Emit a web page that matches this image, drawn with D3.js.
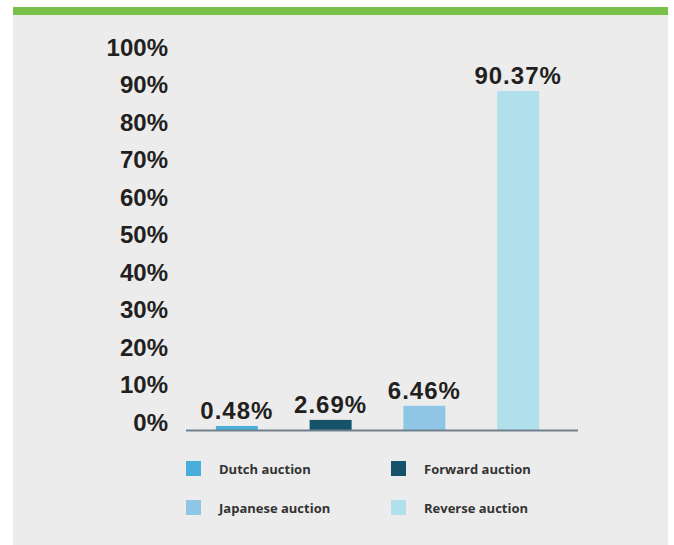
<!DOCTYPE html>
<html>
<head>
<meta charset="utf-8">
<script src="https://cdn.jsdelivr.net/npm/d3@7"></script>
<style>
  body { margin: 0; background: #fff; }
  svg { display: block; }
</style>
</head>
<body>
<script>
// ================= Data ======================
const categories = ["Dutch auction", "Forward auction", "Japanese auction", "Reverse auction"];
const shares = [0.48, 2.69, 6.46, 90.37];
const valueLabels = ["0.48%", "2.69%", "6.46%", "90.37%"];
const yTicks = [0, 10, 20, 30, 40, 50, 60, 70, 80, 90, 100];
const colors = ["#4aaedd", "#16536a", "#8fc6e6", "#b0e0ec"];

const W = 674, H = 545;
const font = "'Liberation Sans', Arial, sans-serif";

const svg = d3.select("body").append("svg")
  .attr("width", W).attr("height", H);

// panel + green rule
svg.append("rect").attr("x", 13).attr("y", 7).attr("width", 655).attr("height", H - 7)
  .attr("fill", "#ececec");
svg.append("rect").attr("x", 13).attr("y", 7).attr("width", 655).attr("height", 8)
  .attr("fill", "#78c04a");

// ================= Scales ======================
const x = d3.scaleBand().domain(categories).range([190, 565])
  .paddingInner(0.552).paddingOuter(0.276);
const y = d3.scaleLinear().domain([0, 100]).range([430, 55]);

// y tick labels (no axis line)
svg.append("g").selectAll("text").data(yTicks).join("text")
  .attr("x", 168)
  .attr("y", d => y(d) - 8)
  .attr("dy", "0.36em")
  .attr("text-anchor", "end")
  .attr("font-family", font)
  .attr("font-weight", 700)
  .attr("font-size", 24)
  .attr("fill", "#231f20")
  .text(d => d + "%");

// bars
svg.append("g").selectAll("rect").data(shares).join("rect")
  .attr("x", (d, i) => x(categories[i]))
  .attr("width", x.bandwidth())
  .attr("y", d => Math.min(y(d), y(0) - 4))
  .attr("height", d => Math.max(y(0) - y(d), 4))
  .attr("fill", (d, i) => colors[i]);

// baseline
svg.append("line")
  .attr("x1", 186).attr("x2", 578)
  .attr("y1", y(0) + 0.5).attr("y2", y(0) + 0.5)
  .attr("stroke", "#6f808c").attr("stroke-width", 2);

// value labels
svg.append("g").selectAll("text").data(shares).join("text")
  .attr("x", (d, i) => x(categories[i]) + x.bandwidth() / 2)
  .attr("y", d => Math.min(y(d), y(0) - 4) - 7)
  .attr("text-anchor", "middle")
  .attr("font-family", font)
  .attr("font-weight", 700)
  .attr("font-size", 24)
  .attr("letter-spacing", 1)
  .attr("fill", "#231f20")
  .text((d, i) => valueLabels[i]);

// ================= Legend ======================
const legend = svg.append("g").selectAll("g").data(categories).join("g")
  .attr("transform", (d, i) => `translate(${i % 2 ? 391 : 186}, ${i < 2 ? 461 : 500})`);
legend.append("rect")
  .attr("width", 15).attr("height", 15)
  .attr("fill", (d, i) => colors[i]);
legend.append("text")
  .attr("x", 33).attr("y", 8)
  .attr("dy", "0.36em")
  .attr("font-family", "'Open Sans', sans-serif")
  .attr("font-weight", 700)
  .attr("font-size", 13)
  .attr("fill", "#333")
  .text(d => d);
</script>
</body>
</html>
